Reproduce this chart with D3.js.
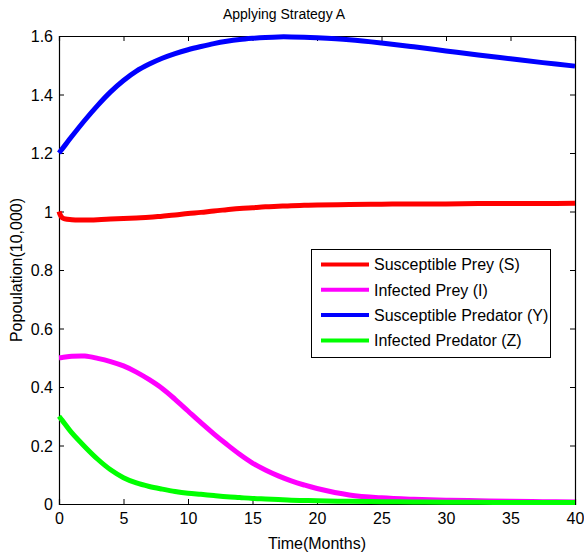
<!DOCTYPE html>
<html><head><meta charset="utf-8">
<script src="https://cdn.jsdelivr.net/npm/d3@7"></script>
<style>body{margin:0;background:#fff}svg{display:block}text{font-family:"Liberation Sans",Arial,sans-serif;fill:#000}</style>
</head><body><svg id="c" width="584" height="556"></svg>
<script>
const times = [0, 0.25, 1, 2, 3, 4, 5, 6, 7, 8, 9, 10, 11, 12, 13, 14, 15, 16, 17, 18, 19, 20, 22.5, 25, 27.5, 30, 32.5, 35, 37.5, 40];
const susPrey = [1.0, 0.979, 0.972, 0.971, 0.972, 0.974, 0.976, 0.978, 0.980, 0.984, 0.988, 0.993, 0.997, 1.002, 1.006, 1.010, 1.013, 1.016, 1.018, 1.020, 1.021, 1.022, 1.024, 1.025, 1.026, 1.026, 1.027, 1.027, 1.027, 1.028];
const infPrey = [0.500, 0.501, 0.505, 0.506, 0.498, 0.487, 0.472, 0.451, 0.425, 0.395, 0.358, 0.318, 0.278, 0.240, 0.204, 0.170, 0.140, 0.116, 0.096, 0.079, 0.065, 0.053, 0.031, 0.021, 0.016, 0.013, 0.011, 0.009, 0.008, 0.007];
const susPred = [1.200, 1.214, 1.257, 1.312, 1.363, 1.409, 1.448, 1.480, 1.504, 1.524, 1.540, 1.553, 1.564, 1.574, 1.582, 1.588, 1.592, 1.595, 1.597, 1.597, 1.596, 1.594, 1.587, 1.576, 1.563, 1.549, 1.535, 1.522, 1.509, 1.497];
const infPred = [0.300, 0.286, 0.243, 0.196, 0.153, 0.117, 0.090, 0.072, 0.060, 0.051, 0.043, 0.037, 0.033, 0.029, 0.025, 0.022, 0.019, 0.017, 0.015, 0.013, 0.012, 0.011, 0.009, 0.008, 0.007, 0.006, 0.006, 0.005, 0.005, 0.005];
const seriesNames = ["Susceptible Prey (S)", "Infected Prey (I)", "Susceptible Predator (Y)", "Infected Predator (Z)"];
const seriesColors = ["#ff0000", "#ff00ff", "#0000ff", "#00ff00"];
const xTicks = [0, 5, 10, 15, 20, 25, 30, 35, 40];
const yTicks = [0, 0.2, 0.4, 0.6, 0.8, 1, 1.2, 1.4, 1.6];
const title = "Applying Strategy A";
const xLabel = "Time(Months)";
const yLabel = "Popoulation(10,000)";

const svg = d3.select("#c");
const L = 59, R = 575, T = 36, B = 504;
const x = d3.scaleLinear().domain([0, 40]).range([L, R]);
const y = d3.scaleLinear().domain([0, 1.6]).range([B, T]);
const tk = 5;

const fmtY = d => d === 0 ? "0" : (d === 1 ? "1" : d3.format(".1f")(d));

const gB = svg.append("g").attr("transform", `translate(0,${B})`)
  .call(d3.axisBottom(x).tickValues(xTicks).tickSize(-tk).tickPadding(9).tickFormat(d3.format("d")));
const gT = svg.append("g").attr("transform", `translate(0,${T})`)
  .call(d3.axisTop(x).tickValues(xTicks).tickSize(-tk).tickFormat(""));
const gL = svg.append("g").attr("transform", `translate(${L},0)`)
  .call(d3.axisLeft(y).tickValues(yTicks).tickSize(-tk).tickPadding(6).tickFormat(fmtY));
const gR = svg.append("g").attr("transform", `translate(${R},0)`)
  .call(d3.axisRight(y).tickValues(yTicks).tickSize(-tk).tickFormat(""));
[gB, gT, gL, gR].forEach(g => {
  g.select(".domain").attr("stroke", "#000").attr("stroke-width", 1.2);
  g.selectAll(".tick line").attr("stroke", "#000");
  g.selectAll("text").attr("font-size", 16).attr("font-family", "Liberation Sans, Arial, sans-serif").attr("fill", "#000");
});
gB.selectAll(".tick text").attr("dy", "0.71em");
gL.selectAll(".tick text").attr("dy", "0.36em");

const data = [susPrey, infPrey, susPred, infPred];
const line = d3.line().x((d, i) => x(times[i])).y(d => y(d)).curve(d3.curveCatmullRom.alpha(0.5));
data.forEach((vals, k) => {
  svg.append("path").datum(vals).attr("d", line).attr("fill", "none")
    .attr("stroke", seriesColors[k]).attr("stroke-width", 5).attr("stroke-linejoin", "round");
});

svg.append("text").attr("x", (L + R) / 2 - 33).attr("y", 19).attr("text-anchor", "middle").attr("font-size", 14).text(title);
svg.append("text").attr("x", (L + R) / 2).attr("y", 549).attr("text-anchor", "middle").attr("font-size", 16).text(xLabel);
svg.append("text").attr("transform", `translate(22,${(T + B) / 2}) rotate(-90)`).attr("text-anchor", "middle").attr("font-size", 16).text(yLabel);

const lg = svg.append("g");
lg.append("rect").attr("x", 311.5).attr("y", 249.5).attr("width", 239).attr("height", 108)
  .attr("fill", "#fff").attr("stroke", "#000").attr("stroke-width", 1);
seriesNames.forEach((name, k) => {
  const cy = 264.5 + k * 25.3;
  lg.append("line").attr("x1", 321).attr("x2", 369).attr("y1", cy).attr("y2", cy)
    .attr("stroke", seriesColors[k]).attr("stroke-width", 4);
  lg.append("text").attr("x", 374).attr("y", cy).attr("dy", "0.36em").attr("font-size", 16).text(name);
});
</script></body></html>
